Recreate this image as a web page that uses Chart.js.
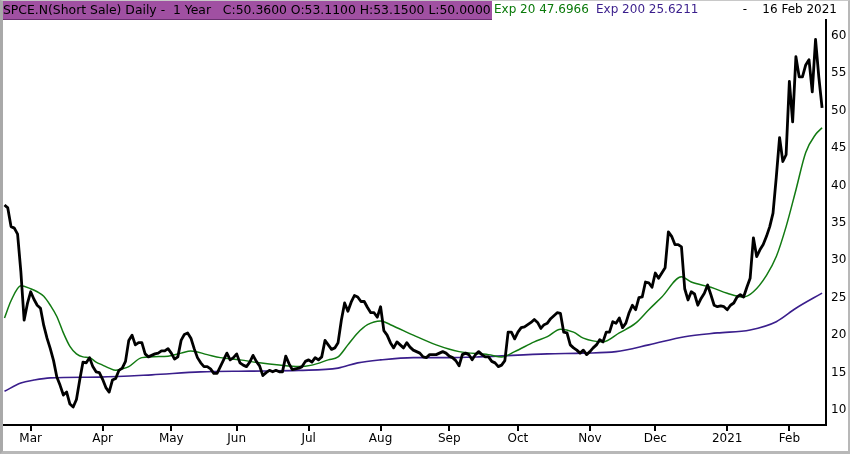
<!DOCTYPE html>
<html>
<head>
  <title>SPCE.N Daily - 1 Year</title>
  <script src="https://cdn.jsdelivr.net/npm/chart.js"></script>
  <style>
    body {
      margin: 0;
      background: #fff;
      font-family: 'DejaVu Sans', sans-serif;
    }
    .wrap {
      position: relative;
      width: 850px;
      height: 454px;
      overflow: hidden;
    }
    /* grey frame round the window */
    .frame {
      position: absolute;
      left: 0; top: 0;
      width: 850px; height: 454px;
      box-sizing: border-box;
      border-left: 3px solid #a9a9a9;
      border-right: 2px solid #b8b8b8;
      border-bottom: 3px solid #b8b8b8;
      border-top: 1px solid #c8c8c8;
      pointer-events: none;
    }
    .header {
      position: absolute;
      left: 0; top: 0;
      height: 19px;
      width: 850px;
      font-size: 12px;
      line-height: 19px;
      white-space: pre;
    }
    .header span { position: absolute; top: 0; }
    #title {
      left: 0;
      width: 489px;
      padding-left: 3px;
      background: #a050a2;
      color: #000;
      border-bottom: 1px solid #6a3070;
      font-size: 12.4px;
      overflow: hidden;
    }
    #ema20Txt { left: 494px; color: #0a7a0a; }
    #ema200Txt { left: 596px; color: #3a1e8c; }
    #dateTxt { right: 13px; color: #000; }
    canvas { position: absolute; left: 0; top: 0; }
  </style>
</head>
<body>
  <div class="wrap">
    <canvas id="chart" width="850" height="454"></canvas>
    <div class="header">
      <span id="title">SPCE.N(Short Sale) Daily -  1 Year   C:50.3600 O:53.1100 H:53.1500 L:50.0000</span>
      <span id="ema20Txt">Exp 20 47.6966</span>
      <span id="ema200Txt">Exp 200 25.6211</span>
      <span id="dateTxt">-    16 Feb 2021</span>
    </div>
    <div class="frame"></div>
  </div>

  <script>
    // daily closes, one per trading day, 19 Feb 2020 .. 16 Feb 2021
    const closes = [
      37.4, 37.0, 34.5, 34.3, 33.5, 28.5, 22.0, 24.2, 25.8, 24.8,
      24.0, 23.6, 21.3, 19.6, 18.2, 16.6, 14.4, 13.3, 12.0, 12.4,
      10.8, 10.4, 11.4, 14.0, 16.4, 16.3, 17.0, 15.8, 15.1, 15.0,
      14.1, 13.0, 12.4, 14.0, 14.2, 15.3, 15.6, 16.5, 19.3, 20.0,
      18.7, 19.0, 19.0, 17.5, 17.1, 17.3, 17.5, 17.6, 17.9, 17.9,
      18.2, 17.6, 16.8, 17.1, 19.3, 20.1, 20.3, 19.6, 18.2, 17.0,
      16.3, 15.8, 15.8, 15.5, 14.9, 14.9, 15.8, 16.7, 17.6, 16.7,
      17.0, 17.5, 16.3, 16.0, 15.8, 16.4, 17.3, 16.5, 15.9, 14.6,
      15.0, 15.3, 15.1, 15.3, 15.1, 15.1, 17.2, 16.2, 15.4, 15.5,
      15.6, 15.8, 16.5, 16.7, 16.4, 17.0, 16.7, 17.1, 19.3, 18.7,
      18.1, 18.3, 19.0, 22.0, 24.3, 23.2, 24.4, 25.3, 25.1, 24.5,
      24.5, 23.7, 23.0, 23.0, 22.4, 23.8, 20.6, 20.0, 19.0, 18.3,
      19.1, 18.7, 18.3, 19.0, 18.4, 18.0, 17.8, 17.6, 17.1, 17.0,
      17.4, 17.4, 17.4, 17.6, 17.8, 17.6, 17.2, 17.0, 16.6, 15.9,
      17.4, 17.6, 17.4, 16.7, 17.4, 17.8, 17.4, 17.1, 17.1, 16.5,
      16.3, 15.8, 16.0, 16.6, 20.4, 20.4, 19.5, 20.4, 21.0, 21.1,
      21.4, 21.7, 22.1, 21.7, 20.9, 21.4, 21.6, 22.2, 22.6, 23.0,
      22.9, 20.4, 20.3, 18.7, 18.3, 18.0, 17.6, 18.0, 17.4, 17.8,
      18.3, 18.7, 19.4, 19.1, 20.4, 20.4, 21.8, 21.6, 22.3, 21.0,
      21.6, 23.0, 24.0, 23.4, 25.0, 25.1, 27.1, 27.0, 26.4, 28.3,
      27.6, 28.3, 29.0, 33.8, 33.2, 32.1, 32.1, 31.8, 26.2, 24.7,
      25.8, 25.5, 24.0, 24.9, 25.6, 26.7, 25.4, 24.0, 23.8, 23.9,
      23.8, 23.4, 24.0, 24.3, 25.1, 25.4, 25.1, 26.4, 27.6, 33.0,
      30.5, 31.4, 32.1, 33.2, 34.5, 36.3, 41.1, 46.4, 43.2, 44.1,
      53.9, 48.5, 57.2, 54.5, 54.5, 56.1, 56.8, 52.5, 59.5, 54.5,
      50.36
    ];

    // exponential averages (trading-day index, value)
    const ema20Idx = [0, 2, 5, 8, 10, 12, 14, 16, 18, 20, 22, 24, 26, 28, 30, 32, 34, 36, 38,
      42, 50, 54, 57, 62, 66, 72, 78, 84, 90, 94, 99, 102, 105, 108, 111, 115, 118,
      125, 132, 139, 148, 152, 156, 162, 166, 170, 174, 177, 183, 188, 193, 197, 201,
      207, 210, 216, 221, 226, 229, 233, 236, 239, 242, 245, 248, 250];
    const ema20Val = [22.3, 24.6, 26.6, 26.2, 25.8, 25.2, 24.0, 22.5, 20.3, 18.5, 17.5, 17.1, 17.0, 16.4, 16.0, 15.6, 15.3, 15.5, 15.8,
      17.0, 17.2, 17.6, 17.9, 17.4, 17.0, 16.7, 16.3, 16.0, 15.8, 16.0, 16.7, 17.1, 18.7, 20.3, 21.4, 21.9, 21.4,
      20.0, 18.7, 17.8, 17.4, 17.1, 17.8, 19.1, 19.8, 20.8, 20.4, 19.6, 19.1, 20.3, 21.6, 23.4, 25.1,
      27.8, 27.1, 26.4, 25.6, 25.1, 25.8, 28.0, 30.5, 34.5, 39.4, 44.4, 46.8, 47.7];

    const ema200Idx = [0, 5, 9, 14, 29, 45, 60, 75, 90, 102, 108, 115, 125, 135, 145, 166,
      177, 187, 197, 208, 218, 228, 236, 242, 250];
    const ema200Val = [12.5, 13.6, 14.0, 14.3, 14.4, 14.7, 15.1, 15.2, 15.3, 15.6, 16.3, 16.7, 17.0, 17.0, 17.1, 17.5,
      17.6, 17.8, 18.7, 19.8, 20.3, 20.7, 21.8, 23.6, 25.62];

    // month ticks: trading-day index of each month's first session
    const monthIdx = [8, 30, 51, 71, 93, 115, 136, 157, 179, 199, 221, 240];
    const monthLabels = ['Mar', 'Apr', 'May', 'Jun', 'Jul', 'Aug', 'Sep', 'Oct', 'Nov', 'Dec', '2021', 'Feb'];

    const priceTicks = [10, 15, 20, 25, 30, 35, 40, 45, 50, 55, 60];

    const toPoints = (xs, ys) => xs.map((x, i) => ({ x: x, y: ys[i] }));

    const ctx = document.getElementById('chart').getContext('2d');

    new Chart(ctx, {
      type: 'line',
      data: {
        datasets: [
          {
            label: 'Close',
            data: closes.map((v, i) => ({ x: i, y: v })),
            borderColor: '#000',
            borderWidth: 2.8,
            pointRadius: 0,
            tension: 0,
            borderJoinStyle: 'round'
          },
          {
            label: 'Exp 20',
            data: toPoints(ema20Idx, ema20Val),
            borderColor: '#127a12',
            borderWidth: 1.5,
            pointRadius: 0,
            cubicInterpolationMode: 'monotone'
          },
          {
            label: 'Exp 200',
            data: toPoints(ema200Idx, ema200Val),
            borderColor: '#3a1e8c',
            borderWidth: 1.6,
            pointRadius: 0,
            cubicInterpolationMode: 'monotone'
          }
        ]
      },
      options: {
        responsive: false,
        animation: false,
        layout: { padding: { top: 20, left: 3, right: 0, bottom: 4 } },
        plugins: {
          legend: { display: false },
          tooltip: { enabled: false }
        },
        scales: {
          x: {
            type: 'linear',
            min: -0.46,
            max: 251.2,
            afterFit: (s) => { s.height = 25; },
            afterBuildTicks: (s) => { s.ticks = monthIdx.map(v => ({ value: v })); },
            border: { display: true, color: '#000', width: 2 },
            grid: { display: true, drawOnChartArea: false, drawTicks: true, tickLength: 6, color: '#000', lineWidth: 2 },
            ticks: {
              autoSkip: false,
              maxRotation: 0,
              padding: 1,
              color: '#000',
              font: { family: 'DejaVu Sans', size: 12 },
              callback: (v) => {
                const k = monthIdx.indexOf(v);
                return k >= 0 ? monthLabels[k] : '';
              }
            }
          },
          y: {
            position: 'right',
            min: 8.0,
            max: 62.1,
            afterFit: (s) => { s.width = 24; },
            afterBuildTicks: (s) => { s.ticks = priceTicks.map(v => ({ value: v })); },
            border: { display: true, color: '#000', width: 2 },
            grid: { display: true, drawOnChartArea: false, drawTicks: false },
            ticks: {
              padding: 5,
              color: '#000',
              font: { family: 'DejaVu Sans', size: 12 }
            }
          }
        }
      }
    });
  </script>
</body>
</html>
